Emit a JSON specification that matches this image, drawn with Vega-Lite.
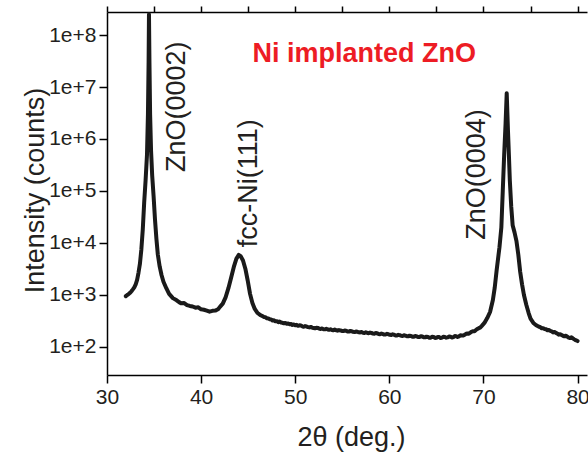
{
  "$schema": "https://vega.github.io/schema/vega-lite/v6.json",
  "width": 480,
  "height": 363,
  "autosize": "none",
  "padding": {"left": 107, "top": 12, "right": 1, "bottom": 82},
  "background": "white",
  "config": {"view": {"stroke": null}},
  "layer": [
    {
      "data": {
        "values": [
          {"t": 32.0, "i": 950}, {"t": 32.15, "i": 1000}, {"t": 32.3, "i": 1040}, {"t": 32.45, "i": 1100},
          {"t": 32.6, "i": 1180}, {"t": 32.75, "i": 1280}, {"t": 32.9, "i": 1400}, {"t": 33.05, "i": 1600},
          {"t": 33.2, "i": 1950}, {"t": 33.35, "i": 2700}, {"t": 33.5, "i": 4000}, {"t": 33.65, "i": 7500},
          {"t": 33.8, "i": 18000}, {"t": 33.95, "i": 60000}, {"t": 34.1, "i": 160000}, {"t": 34.25, "i": 500000},
          {"t": 34.35, "i": 3000000}, {"t": 34.42, "i": 30000000}, {"t": 34.46, "i": 250000000},
          {"t": 34.51, "i": 30000000}, {"t": 34.58, "i": 3000000}, {"t": 34.68, "i": 600000},
          {"t": 34.8, "i": 200000}, {"t": 34.95, "i": 80000}, {"t": 35.1, "i": 28000}, {"t": 35.25, "i": 12000},
          {"t": 35.4, "i": 6000}, {"t": 35.6, "i": 3500}, {"t": 35.8, "i": 2400}, {"t": 36.0, "i": 1800},
          {"t": 36.3, "i": 1350}, {"t": 36.6, "i": 1050}, {"t": 37.0, "i": 870}, {"t": 37.4, "i": 790},
          {"t": 37.7, "i": 720}, {"t": 37.9, "i": 690}, {"t": 38.2, "i": 700}, {"t": 38.5, "i": 640},
          {"t": 38.8, "i": 615}, {"t": 39.1, "i": 600}, {"t": 39.4, "i": 570}, {"t": 39.7, "i": 580},
          {"t": 40.0, "i": 530}, {"t": 40.3, "i": 520}, {"t": 40.6, "i": 500}, {"t": 40.9, "i": 478},
          {"t": 41.2, "i": 495}, {"t": 41.5, "i": 500}, {"t": 41.8, "i": 530}, {"t": 42.0, "i": 590},
          {"t": 42.3, "i": 680}, {"t": 42.6, "i": 900}, {"t": 42.9, "i": 1350}, {"t": 43.2, "i": 2200},
          {"t": 43.5, "i": 3600}, {"t": 43.75, "i": 5000}, {"t": 44.0, "i": 5900}, {"t": 44.2, "i": 5600},
          {"t": 44.45, "i": 4600}, {"t": 44.7, "i": 3200}, {"t": 44.95, "i": 1900}, {"t": 45.2, "i": 1050},
          {"t": 45.45, "i": 700}, {"t": 45.7, "i": 540}, {"t": 46.0, "i": 450}, {"t": 46.3, "i": 410},
          {"t": 46.5, "i": 395}, {"t": 46.7, "i": 375}, {"t": 46.85, "i": 372}, {"t": 47.0, "i": 355},
          {"t": 47.15, "i": 352}, {"t": 47.3, "i": 340}, {"t": 47.45, "i": 338}, {"t": 47.6, "i": 322},
          {"t": 47.75, "i": 326}, {"t": 47.9, "i": 312}, {"t": 48.05, "i": 314}, {"t": 48.2, "i": 300},
          {"t": 48.35, "i": 308}, {"t": 48.5, "i": 296}, {"t": 48.65, "i": 292}, {"t": 48.8, "i": 285},
          {"t": 48.95, "i": 290}, {"t": 49.1, "i": 280}, {"t": 49.25, "i": 283}, {"t": 49.4, "i": 274},
          {"t": 49.55, "i": 276}, {"t": 49.7, "i": 265}, {"t": 49.85, "i": 271}, {"t": 50.0, "i": 262},
          {"t": 50.15, "i": 266}, {"t": 50.3, "i": 255}, {"t": 50.45, "i": 261}, {"t": 50.6, "i": 258},
          {"t": 50.75, "i": 250}, {"t": 50.9, "i": 245}, {"t": 51.05, "i": 252}, {"t": 51.2, "i": 248},
          {"t": 51.35, "i": 241}, {"t": 51.5, "i": 238}, {"t": 51.65, "i": 243}, {"t": 51.8, "i": 236},
          {"t": 51.95, "i": 231}, {"t": 52.1, "i": 228}, {"t": 52.25, "i": 235}, {"t": 52.4, "i": 232},
          {"t": 52.55, "i": 226}, {"t": 52.7, "i": 222}, {"t": 52.85, "i": 227}, {"t": 53.0, "i": 220},
          {"t": 53.15, "i": 218}, {"t": 53.3, "i": 224}, {"t": 53.45, "i": 217}, {"t": 53.6, "i": 214},
          {"t": 53.75, "i": 219}, {"t": 53.9, "i": 212}, {"t": 54.05, "i": 209}, {"t": 54.2, "i": 216},
          {"t": 54.35, "i": 210}, {"t": 54.5, "i": 206}, {"t": 54.65, "i": 211}, {"t": 54.8, "i": 208},
          {"t": 54.95, "i": 203}, {"t": 55.1, "i": 202}, {"t": 55.25, "i": 207}, {"t": 55.4, "i": 205},
          {"t": 55.55, "i": 199}, {"t": 55.7, "i": 198}, {"t": 55.85, "i": 203}, {"t": 56.0, "i": 201},
          {"t": 56.15, "i": 195}, {"t": 56.3, "i": 193}, {"t": 56.45, "i": 198}, {"t": 56.6, "i": 196},
          {"t": 56.75, "i": 191}, {"t": 56.9, "i": 190}, {"t": 57.05, "i": 194}, {"t": 57.2, "i": 188},
          {"t": 57.35, "i": 186}, {"t": 57.5, "i": 192}, {"t": 57.65, "i": 187}, {"t": 57.8, "i": 184},
          {"t": 57.95, "i": 189}, {"t": 58.1, "i": 186}, {"t": 58.25, "i": 181}, {"t": 58.4, "i": 180},
          {"t": 58.55, "i": 185}, {"t": 58.7, "i": 183}, {"t": 58.85, "i": 178}, {"t": 59.0, "i": 176},
          {"t": 59.15, "i": 181}, {"t": 59.3, "i": 178}, {"t": 59.45, "i": 173}, {"t": 59.6, "i": 174},
          {"t": 59.75, "i": 179}, {"t": 59.9, "i": 176}, {"t": 60.05, "i": 171}, {"t": 60.2, "i": 170},
          {"t": 60.35, "i": 175}, {"t": 60.5, "i": 172}, {"t": 60.65, "i": 167}, {"t": 60.8, "i": 166},
          {"t": 60.95, "i": 171}, {"t": 61.1, "i": 169}, {"t": 61.25, "i": 164}, {"t": 61.4, "i": 163},
          {"t": 61.55, "i": 168}, {"t": 61.7, "i": 165}, {"t": 61.85, "i": 161}, {"t": 62.0, "i": 160},
          {"t": 62.15, "i": 165}, {"t": 62.3, "i": 163}, {"t": 62.45, "i": 158}, {"t": 62.6, "i": 158},
          {"t": 62.75, "i": 163}, {"t": 62.9, "i": 160}, {"t": 63.05, "i": 155}, {"t": 63.2, "i": 155},
          {"t": 63.35, "i": 161}, {"t": 63.5, "i": 159}, {"t": 63.65, "i": 153}, {"t": 63.8, "i": 153},
          {"t": 63.95, "i": 158}, {"t": 64.1, "i": 156}, {"t": 64.25, "i": 150}, {"t": 64.4, "i": 151},
          {"t": 64.55, "i": 157}, {"t": 64.7, "i": 156}, {"t": 64.85, "i": 149}, {"t": 65.0, "i": 150},
          {"t": 65.15, "i": 156}, {"t": 65.3, "i": 155}, {"t": 65.45, "i": 149}, {"t": 65.6, "i": 151},
          {"t": 65.75, "i": 157}, {"t": 65.9, "i": 156}, {"t": 66.05, "i": 151}, {"t": 66.2, "i": 153},
          {"t": 66.35, "i": 159}, {"t": 66.5, "i": 157}, {"t": 66.65, "i": 152}, {"t": 66.8, "i": 155},
          {"t": 66.95, "i": 162}, {"t": 67.1, "i": 161}, {"t": 67.25, "i": 156}, {"t": 67.4, "i": 160},
          {"t": 67.55, "i": 168}, {"t": 67.7, "i": 167}, {"t": 67.85, "i": 166}, {"t": 68.0, "i": 172},
          {"t": 68.15, "i": 179}, {"t": 68.3, "i": 181}, {"t": 68.45, "i": 180}, {"t": 68.6, "i": 188},
          {"t": 68.75, "i": 197}, {"t": 68.9, "i": 200}, {"t": 69.05, "i": 201}, {"t": 69.2, "i": 212},
          {"t": 69.35, "i": 222}, {"t": 69.5, "i": 230}, {"t": 69.65, "i": 236}, {"t": 69.8, "i": 252},
          {"t": 70.1, "i": 290}, {"t": 70.4, "i": 360},
          {"t": 70.7, "i": 470}, {"t": 71.0, "i": 800}, {"t": 71.2, "i": 1400}, {"t": 71.4, "i": 3000},
          {"t": 71.7, "i": 8300}, {"t": 71.9, "i": 20000}, {"t": 72.05, "i": 100000}, {"t": 72.2, "i": 500000},
          {"t": 72.35, "i": 2000000}, {"t": 72.47, "i": 7600000}, {"t": 72.6, "i": 1500000},
          {"t": 72.7, "i": 500000}, {"t": 72.8, "i": 160000}, {"t": 72.95, "i": 50000}, {"t": 73.1, "i": 22000},
          {"t": 73.3, "i": 16000}, {"t": 73.5, "i": 11000}, {"t": 73.7, "i": 6000}, {"t": 73.9, "i": 2800},
          {"t": 74.1, "i": 1600}, {"t": 74.3, "i": 1000}, {"t": 74.55, "i": 650}, {"t": 74.8, "i": 450},
          {"t": 75.0, "i": 350}, {"t": 75.3, "i": 290}, {"t": 75.6, "i": 262}, {"t": 75.9, "i": 245},
          {"t": 76.05, "i": 240}, {"t": 76.2, "i": 228}, {"t": 76.35, "i": 230}, {"t": 76.5, "i": 222},
          {"t": 76.65, "i": 219}, {"t": 76.8, "i": 210}, {"t": 76.95, "i": 212}, {"t": 77.1, "i": 204},
          {"t": 77.25, "i": 200}, {"t": 77.4, "i": 190}, {"t": 77.55, "i": 194}, {"t": 77.7, "i": 186},
          {"t": 77.85, "i": 181}, {"t": 78.0, "i": 172}, {"t": 78.15, "i": 176}, {"t": 78.3, "i": 170},
          {"t": 78.45, "i": 164}, {"t": 78.6, "i": 160}, {"t": 78.75, "i": 165}, {"t": 78.9, "i": 158},
          {"t": 79.05, "i": 151}, {"t": 79.2, "i": 148}, {"t": 79.35, "i": 153}, {"t": 79.5, "i": 146},
          {"t": 79.65, "i": 140}, {"t": 79.8, "i": 135}, {"t": 80.0, "i": 130}
        ]
      },
      "mark": {"type": "line", "color": "#1a1a1a", "strokeWidth": 4, "strokeJoin": "round", "strokeCap": "round"},
      "encoding": {
        "x": {
          "field": "t",
          "type": "quantitative",
          "scale": {"domain": [30, 81], "nice": false, "zero": false},
          "axis": {
            "orient": "bottom",
            "gridOpacity": 0,
            "domainColor": "black",
            "domainWidth": 1.5,
            "tickColor": "black",
            "tickWidth": 1.5,
            "tickSize": 8,
            "title": "2θ (deg.)",
            "titleFont": "Liberation Sans",
            "titleFontWeight": "normal",
            "titleColor": "#231f20",
            "titleFontSize": 27,
            "titleX": 244,
            "titleY": 62,
            "titleBaseline": "middle",
            "values": [30, 40, 50, 60, 70, 80],
            "labelFont": "Liberation Sans",
            "labelColor": "#231f20",
            "labelFontSize": 21,
            "labelPadding": 3,
            "labelFlush": false
          }
        },
        "y": {
          "field": "i",
          "type": "quantitative",
          "scale": {"type": "log", "domain": [28.9, 277000000], "nice": false},
          "axis": {
            "orient": "left",
            "gridOpacity": 0,
            "domainColor": "black",
            "domainWidth": 1.5,
            "tickColor": "black",
            "tickWidth": 1.5,
            "tickSize": 8,
            "title": "Intensity (counts)",
            "titleFont": "Liberation Sans",
            "titleFontWeight": "normal",
            "titleColor": "#231f20",
            "titleFontSize": 27,
            "titleX": -72,
            "titleY": 178,
            "titleBaseline": "middle",
            "values": [100, 1000, 10000, 100000, 1000000, 10000000, 100000000],
            "format": ".0e",
            "labelFont": "Liberation Sans",
            "labelColor": "#231f20",
            "labelFontSize": 21,
            "labelPadding": 3
          }
        }
      }
    },
    {
      "data": {
        "values": [
          {"x": 37.4, "y": 232000, "label": "ZnO(0002)"},
          {"x": 45.07, "y": 8300, "label": "fcc-Ni(111)"},
          {"x": 69.33, "y": 11500, "label": "ZnO(0004)"}
        ]
      },
      "mark": {"type": "text", "angle": 270, "align": "left", "baseline": "middle", "fontSize": 27, "font": "Liberation Sans", "color": "#231f20"},
      "encoding": {
        "x": {
          "field": "x",
          "type": "quantitative",
          "scale": {"domain": [30, 81], "nice": false, "zero": false},
          "axis": {"orient": "top", "title": null, "gridOpacity": 0, "values": [30, 35, 40, 45, 50, 55, 60, 65, 70, 75, 80], "labels": false, "tickSize": 6, "tickColor": "black", "tickWidth": 1.5, "domainColor": "black", "domainWidth": 1.5}
        },
        "y": {"field": "y", "type": "quantitative", "scale": {"type": "log", "domain": [28.9, 277000000], "nice": false}, "axis": null},
        "text": {"field": "label"}
      }
    },
    {
      "data": {"values": [{"x": 57.33, "y": 30000000, "label": "Ni implanted ZnO"}]},
      "mark": {"type": "text", "align": "center", "baseline": "alphabetic", "fontSize": 27, "fontWeight": "bold", "font": "Liberation Sans", "color": "#ed1c24"},
      "encoding": {
        "x": {"field": "x", "type": "quantitative", "scale": {"domain": [30, 81], "nice": false, "zero": false}, "axis": null},
        "y": {"field": "y", "type": "quantitative", "scale": {"type": "log", "domain": [28.9, 277000000], "nice": false}, "axis": null},
        "text": {"field": "label"}
      }
    }
  ],
  "resolve": {"axis": {"x": "independent", "y": "independent"}}
}
